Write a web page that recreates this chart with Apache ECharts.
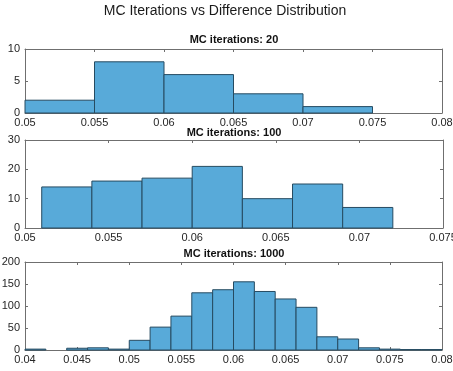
<!DOCTYPE html>
<html>
<head>
<meta charset="utf-8">
<script src="https://cdn.jsdelivr.net/npm/echarts@6/dist/echarts.min.js"></script>
<style>
  html, body { margin: 0; padding: 0; background: #fff; }
  #chart { width: 453px; height: 371px; }
</style>
</head>
<body>
<div id="chart"></div>
<script>
// histogram bin edges and counts, one set per subplot
const edges20 = [0.05, 0.055, 0.06, 0.065, 0.07, 0.075]
const counts20 = [2, 8, 6, 3, 1]

const edges100 = [0.051, 0.054, 0.057, 0.060, 0.063, 0.066, 0.069, 0.072]
const counts100 = [14, 16, 17, 21, 10, 15, 7]

const edges1000 = [0.040, 0.042, 0.044, 0.046, 0.048, 0.050, 0.052, 0.054, 0.056, 0.058, 0.060,
  0.062, 0.064, 0.066, 0.068, 0.070, 0.072, 0.074, 0.076, 0.078, 0.080]
const counts1000 = [2, 0, 4, 5, 2, 22, 52, 77, 130, 137, 155, 133, 116, 97, 30, 25, 5, 2, 1, 1]

const titles = ['MC iterations: 20', 'MC iterations: 100', 'MC iterations: 1000']
const xRanges = [[0.05, 0.08], [0.05, 0.075], [0.04, 0.08]]
const yRanges = [[0, 10, 5], [0, 30, 10], [0, 200, 50]]

const panels = [
  { edges: edges20, counts: counts20 },
  { edges: edges100, counts: counts100 },
  { edges: edges1000, counts: counts1000 }
]

const grids = [
  { left: 25, top: 49, width: 417, height: 64, outerBoundsMode: 'none' },
  { left: 25, top: 140, width: 418, height: 88, outerBoundsMode: 'none' },
  { left: 25, top: 262, width: 417, height: 88, outerBoundsMode: 'none' }
]

const axisColor = '#6f6f6f'
const labelColor = '#262626'
const font = 'Liberation Sans'

const chart = echarts.init(document.getElementById('chart'))

const xAxis = []
const yAxis = []
// bottom / left axes with labels
xRanges.forEach((r, i) => {
  xAxis.push({
    type: 'value', gridIndex: i, min: r[0], max: r[1], interval: 0.005,
    splitLine: { show: false },
    axisLine: { show: true, onZero: false, lineStyle: { color: axisColor, width: 1 } },
    axisTick: { show: true, inside: true, length: 3, lineStyle: { color: axisColor } },
    axisLabel: {
      color: labelColor, fontSize: 11, fontFamily: font, margin: 4,
      formatter: v => String(+v.toFixed(3)),
      showMinLabel: true, showMaxLabel: true
    }
  })
})
yRanges.forEach((r, i) => {
  yAxis.push({
    type: 'value', gridIndex: i, min: r[0], max: r[1], interval: r[2],
    splitLine: { show: false },
    axisLine: { show: true, onZero: false, lineStyle: { color: axisColor, width: 1 } },
    axisTick: { show: true, inside: true, length: 3, lineStyle: { color: axisColor } },
    axisLabel: { color: labelColor, fontSize: 11, fontFamily: font, margin: 5 }
  })
})
// top / right axes to close the box
xRanges.forEach((r, i) => {
  xAxis.push({
    type: 'value', gridIndex: i, position: 'top', min: r[0], max: r[1], interval: 0.005,
    splitLine: { show: false },
    axisLine: { show: true, onZero: false, lineStyle: { color: axisColor, width: 1 } },
    axisTick: { show: true, inside: true, length: 3, lineStyle: { color: axisColor } },
    axisLabel: { show: false }
  })
})
yRanges.forEach((r, i) => {
  yAxis.push({
    type: 'value', gridIndex: i, position: 'right', min: r[0], max: r[1], interval: r[2],
    splitLine: { show: false },
    axisLine: { show: true, onZero: false, lineStyle: { color: axisColor, width: 1 } },
    axisTick: { show: true, inside: true, length: 3, lineStyle: { color: axisColor } },
    axisLabel: { show: false }
  })
})

const renderBin = (params, api) => {
  const c = api.value(2)
  if (!c) return null
  const p0 = api.coord([api.value(0), c])
  const p1 = api.coord([api.value(1), 0])
  return {
    type: 'rect',
    shape: { x: p0[0], y: p0[1], width: p1[0] - p0[0], height: p1[1] - p0[1] },
    style: { fill: '#58aad9', stroke: '#264b61', lineWidth: 1 }
  }
}

const series = panels.map((p, i) => ({
  type: 'custom',
  xAxisIndex: i,
  yAxisIndex: i,
  renderItem: renderBin,
  encode: { x: [0, 1], y: 2 },
  data: p.counts.map((c, k) => [p.edges[k], p.edges[k + 1], c]),
  z: 1
}))

const option = {
  backgroundColor: '#fff',
  animation: false,
  title: [
    {
      text: 'MC Iterations vs Difference Distribution',
      left: 225, top: 4, padding: 0, textAlign: 'center',
      textStyle: { fontSize: 14, fontWeight: 'normal', color: '#1a1a1a', fontFamily: font }
    },
    ...titles.map((t, i) => ({
      text: t,
      left: 234, top: [34, 127, 248][i], padding: 0, textAlign: 'center',
      textStyle: { fontSize: 11, fontWeight: 'bold', color: '#111', fontFamily: font }
    }))
  ],
  grid: grids,
  xAxis,
  yAxis,
  series
}

chart.setOption(option)
</script>
</body>
</html>
